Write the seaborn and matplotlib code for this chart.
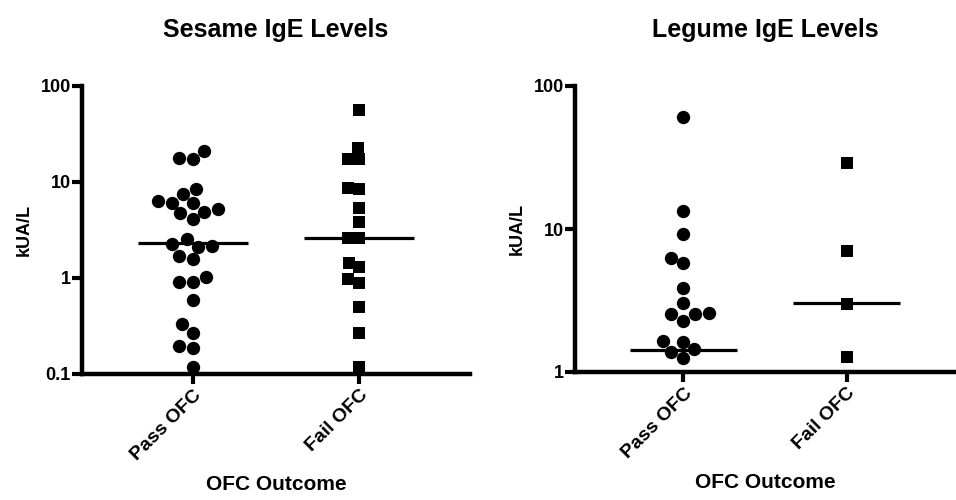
import matplotlib
matplotlib.use('Agg')
import matplotlib.pyplot as plt
import matplotlib.ticker as mticker
import numpy as np
import seaborn as sns

sns.set_style('white')
plt.rcParams['font.family'] = ['Liberation Sans', 'DejaVu Sans']
plt.rcParams['font.weight'] = 'bold'
plt.rcParams['text.color'] = 'black'
plt.rcParams['axes.labelcolor'] = 'black'
plt.rcParams['xtick.color'] = 'black'
plt.rcParams['ytick.color'] = 'black'

categories = ['Pass OFC', 'Fail OFC']

# Sesame IgE (kUA/L)
sesame_pass = [21, 17.7, 17.2, 7.5, 8.4, 6.1, 6.3, 6.0, 5.2, 4.7, 4.9, 4.1,
               2.55, 2.17, 2.12, 2.24, 1.71, 1.58, 1.02, 0.90, 0.90, 0.59,
               0.33, 0.27, 0.196, 0.188, 0.119]
sesame_fail = [56, 22.4, 17.2, 17.2, 8.6, 8.4, 5.4, 3.8, 2.6, 2.6, 1.45, 1.29,
               0.98, 0.89, 0.50, 0.27, 0.119]
sesame_median = [2.3, 2.63]

# Legume IgE (kUA/L)
legume_pass = [61, 13.3, 9.2, 5.8, 6.3, 3.84, 2.59, 2.28, 3.06, 2.54, 2.56,
               1.65, 1.62, 1.44, 1.38, 1.26]
legume_fail = [28.8, 7.0, 3.01, 1.27]
legume_median = [1.42, 3.05]

fig = plt.figure(figsize=(9.56, 5.0), dpi=100)
ax1 = fig.add_axes([0.0858, 0.252, 0.4058, 0.576])
ax2 = fig.add_axes([0.6015, 0.256, 0.3975, 0.572])


def draw_panel(ax, pass_vals, fail_vals, medians, title, ylim, yticks):
    ax.set_yscale('log')
    ax.set_ylim(*ylim)
    sns.swarmplot(x=['Pass OFC'] * len(pass_vals), y=pass_vals, order=categories,
                  color='black', marker='o', size=9.6, ax=ax)
    sns.swarmplot(x=['Fail OFC'] * len(fail_vals), y=fail_vals, order=categories,
                  color='black', marker='s', size=8.0, ax=ax)
    # median bars
    for i, m in enumerate(medians):
        ax.hlines(m, i - 0.33, i + 0.33, color='black', lw=2.3, zorder=1)
    ax.set_xlim(-0.665, 1.665)
    ax.set_yscale('log')
    ax.set_ylim(*ylim)
    ax.set_yticks(yticks)
    ax.yaxis.set_major_formatter(mticker.FuncFormatter(lambda v, p: f'{v:g}'))
    ax.yaxis.set_minor_locator(mticker.LogLocator(base=10, subs=np.arange(2, 10)))
    ax.yaxis.set_minor_formatter(mticker.NullFormatter())
    ax.tick_params(axis='y', which='major', direction='out', length=7, width=3,
                   labelsize=13, pad=1)
    ax.tick_params(axis='y', which='minor', direction='out', length=4, width=2.5)
    ax.tick_params(axis='x', which='major', direction='out', length=7, width=3,
                   labelsize=14, pad=2)
    ax.tick_params(left=True, bottom=True)
    ax.set_xticks([0, 1])
    ax.set_xticklabels(categories, rotation=45, ha='right', rotation_mode='anchor',
                       fontweight='bold')
    for lbl in ax.get_yticklabels():
        lbl.set_fontweight('bold')
    for s in ['top', 'right']:
        ax.spines[s].set_visible(False)
    for s in ['left', 'bottom']:
        ax.spines[s].set_linewidth(3.2)
        ax.spines[s].set_color('black')
    ax.set_ylabel('kUA/L', fontsize=13, fontweight='bold', labelpad=6)
    ax.set_xlabel('OFC Outcome', fontsize=15, fontweight='bold', labelpad=8)
    ax.set_title(title, fontsize=18, fontweight='bold', pad=35)


draw_panel(ax1, sesame_pass, sesame_fail, sesame_median, 'Sesame IgE Levels',
           (0.1, 100), [0.1, 1, 10, 100])
draw_panel(ax2, legume_pass, legume_fail, legume_median, 'Legume IgE Levels',
           (1, 100), [1, 10, 100])

fig.savefig('out.png', dpi=100)
